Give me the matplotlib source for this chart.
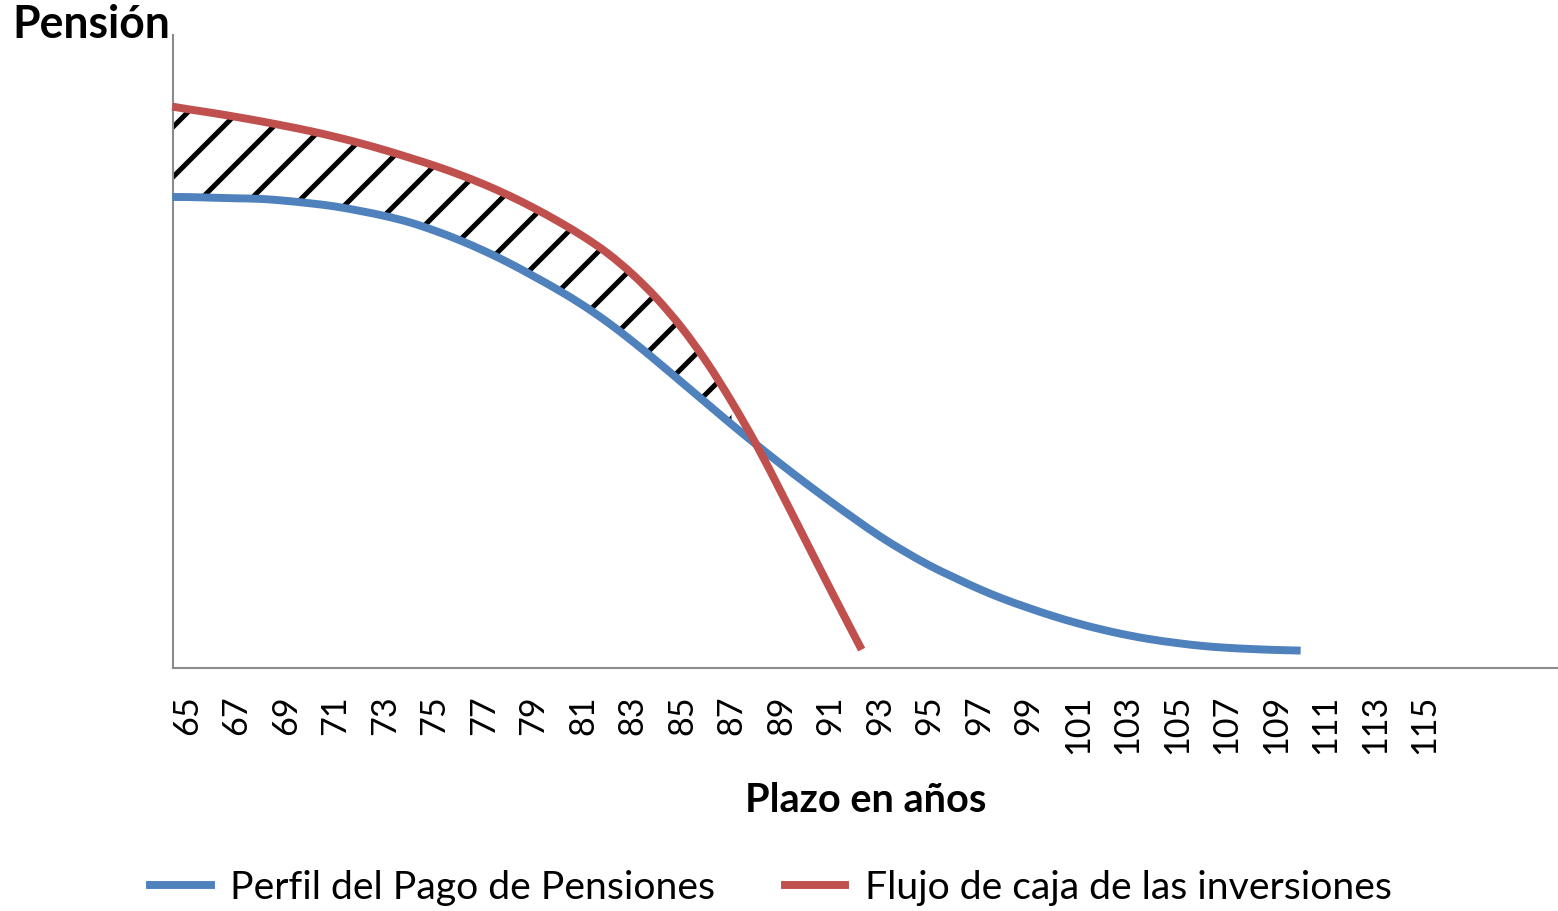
import matplotlib.pyplot as plt
import numpy as np
from matplotlib.path import Path
from matplotlib.patches import PathPatch
from matplotlib.lines import Line2D

# Datos (valores relativos, eje Y sin escala)
edades_pago = [64.4, 65, 66, 67, 68, 69, 70, 71, 72, 73, 74, 75, 76, 77, 78, 79, 80,
               81, 82, 83, 84, 85, 86, 87, 88, 89, 90, 91, 92, 93, 94, 95, 96, 97,
               98, 99, 100, 101, 102, 103, 104, 105, 106, 107, 108, 109, 110]
pago_pensiones = [74.4, 74.4, 74.3, 74.2, 74.1, 73.8, 73.4, 72.9, 72.2, 71.4, 70.4,
                  69.1, 67.6, 65.9, 64.0, 61.9, 59.7, 57.3, 54.6, 51.6, 48.4, 45.1,
                  41.8, 38.5, 35.3, 32.2, 29.2, 26.3, 23.5, 20.8, 18.4, 16.2, 14.3,
                  12.5, 10.9, 9.5, 8.2, 7.05, 6.05, 5.2, 4.5, 3.95, 3.5, 3.2, 3.0, 2.85, 2.75]

edades_flujo = [64.4, 65, 66, 67, 68, 69, 70, 71, 72, 73, 74, 75, 76, 77, 78, 79, 80,
                81, 82, 83, 84, 85, 86, 87, 88, 89, 90, 91, 92.26]
flujo_inversiones = [88.7, 88.3, 87.7, 87.05, 86.35, 85.6, 84.8, 83.9, 82.9, 81.8, 80.6,
                     79.35, 77.95, 76.4, 74.65, 72.7, 70.55, 68.2, 65.5, 62.2, 58.3, 53.7,
                     48.3, 42.1, 35.3, 27.8, 20.1, 12.4, 2.9]

ticks_x = list(range(65, 117, 2))

azul = '#4F81BD'
rojo = '#C0504D'


def linea_suave(x, y):
    # curva suavizada tipo Excel (Catmull-Rom -> Bezier)
    p = np.column_stack([x, y]).astype(float)
    verts = [p[0]]
    codes = [Path.MOVETO]
    for i in range(len(p) - 1):
        p0 = p[max(i - 1, 0)]
        p1 = p[i]
        p2 = p[i + 1]
        p3 = p[min(i + 2, len(p) - 1)]
        verts += [p1 + (p2 - p0) / 6, p2 - (p3 - p1) / 6, p2]
        codes += [Path.CURVE4] * 3
    return Path(verts, codes)


plt.rcParams['font.family'] = ['Lato', 'DejaVu Sans']
plt.rcParams['hatch.linewidth'] = 1.2
plt.rcParams['hatch.color'] = 'black'

fig = plt.figure(figsize=(1558 / 300, 911 / 300), dpi=300)
ax = fig.add_axes([173 / 1558, 1 - 668 / 911, 1 - 173 / 1558, (668 - 35) / 911])

# zona rayada entre las dos curvas
n = edades_flujo.index(87) + 1
x_fill = np.array(edades_flujo[:n])
rojo_fill = np.array(flujo_inversiones[:n])
azul_fill = np.array(pago_pensiones[:n])
ax.fill_between(x_fill, azul_fill, rojo_fill, where=rojo_fill >= azul_fill,
                facecolor='none', edgecolor='black', hatch='//', linewidth=0)

for xs, ys, c in [(edades_pago, pago_pensiones, azul), (edades_flujo, flujo_inversiones, rojo)]:
    ax.add_patch(PathPatch(linea_suave(xs, ys), facecolor='none', edgecolor=c, lw=1.9,
                           capstyle='butt', clip_on=False, zorder=3))

ax.set_xlim(64.43, 120.4)
ax.set_ylim(0, 100)
ax.set_xticks(ticks_x)
ax.set_xticklabels([str(t) for t in ticks_x], rotation=90, fontsize=8.2)
ax.tick_params(axis='x', length=0, pad=6.5)
ax.set_yticks([])

for s in ['top', 'right']:
    ax.spines[s].set_visible(False)
for s in ['left', 'bottom']:
    ax.spines[s].set_color('#8c8c8c')
    ax.spines[s].set_linewidth(0.5)

ax.set_xlabel('Plazo en años', fontsize=9.5, fontweight='bold', labelpad=6.5)
fig.text(12 / 1558, 1 - 25 / 911, 'Pensión', fontsize=10.7, fontweight='bold',
         ha='left', va='center')

handles = [Line2D([], [], color=azul, lw=1.9), Line2D([], [], color=rojo, lw=1.9)]
labels = ['Perfil del Pago de Pensiones', 'Flujo de caja de las inversiones']
fig.legend(handles, labels, loc='center', bbox_to_anchor=(771 / 1558, 1 - 888 / 911),
           ncol=2, frameon=False, fontsize=9.4, handlelength=1.54, handletextpad=0.5,
           columnspacing=1.77)

fig.savefig('out.png', dpi=300)
